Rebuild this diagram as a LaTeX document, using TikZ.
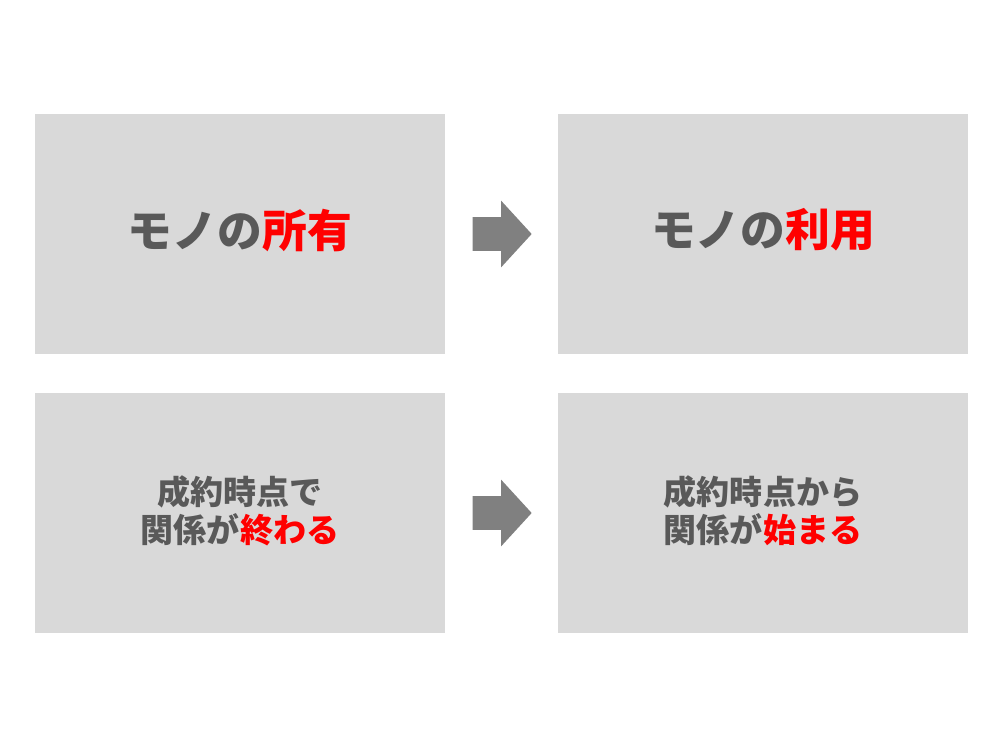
\documentclass[tikz,border=0pt]{standalone}
\usepackage{fontspec}
\setmainfont{Noto Sans CJK JP}
\usetikzlibrary{calc,shapes.arrows}
\begin{document}
\begin{tikzpicture}[x=0.02cm,y=-0.02cm]
  % Colors
  \colorlet{panelcolor}{black!15}
  \colorlet{labelgray}{black!65}
  \colorlet{keycolor}{red}
  \colorlet{arrowcolor}{black!50}

  % Styles
  \tikzstyle{panel}=[fill=panelcolor,minimum width=8.2cm,minimum height=4.8cm,
    inner sep=0pt]
  \tikzstyle{big text}=[text=labelgray,align=center,
    font=\fontsize{25.5}{30}\selectfont\bfseries]
  \tikzstyle{small text}=[text=labelgray,align=center,
    font=\fontsize{18.8}{21.5}\selectfont\bfseries]
  \tikzstyle{block arrow}=[single arrow,fill=arrowcolor,inner xsep=0pt,
    inner ysep=0.33cm,single arrow head extend=0.33cm,
    single arrow tip angle=95,minimum height=1.18cm,anchor=tail]

  % The graphic
  \useasboundingbox[fill=white] (0,0) rectangle (1000,750);

  \node[panel] (own) at (240,234) {};
  \node[panel] (use) at (763,234) {};
  \node[panel] (ends) at (240,513) {};
  \node[panel] (starts) at (763,513) {};

  \node[big text] (own text) at ($(own)+(0,-4)$) {モノの\textcolor{keycolor}{所有}};
  \node[big text] (use text) at ($(use)+(0,-4)$) {モノの\textcolor{keycolor}{利用}};
  \node[small text] (ends text) at ($(ends)+(0,-2)$)
    {成約時点で\\関係が\textcolor{keycolor}{終わる}};
  \node[small text] (starts text) at ($(starts)+(0,-2)$)
    {成約時点から\\関係が\textcolor{keycolor}{始まる}};

  \node[block arrow] (top arrow) at ($(own.east)+(27,0)$) {};
  \node[block arrow] (bottom arrow) at ($(ends.east)+(27,0)$) {};
\end{tikzpicture}
\end{document}
